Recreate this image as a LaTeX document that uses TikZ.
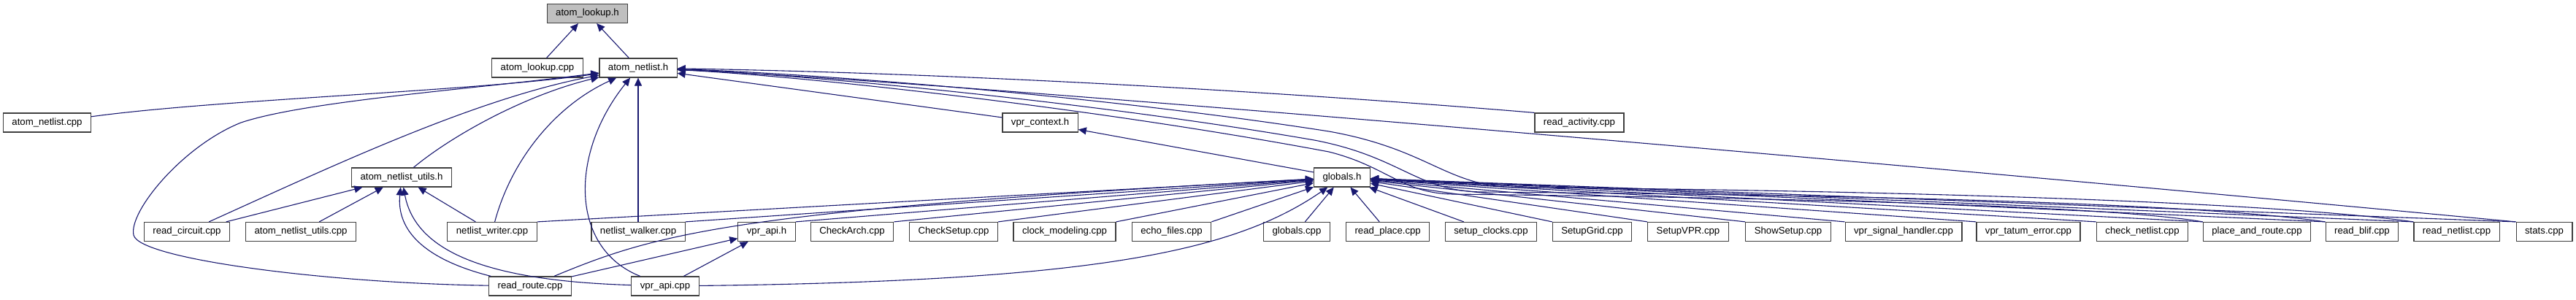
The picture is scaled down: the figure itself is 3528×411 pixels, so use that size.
\documentclass[tikz,border=0pt]{standalone}
\usepackage{fontspec}
\setmainfont{Liberation Sans}
\usetikzlibrary{arrows.meta}
\definecolor{midblue}{HTML}{191970}
\definecolor{boxgray}{HTML}{BFBFBF}
\begin{document}
\begin{tikzpicture}[x=1pt, y=-1pt,
        every node/.style = {shape=rectangle, draw=black!75, line width=1.2pt,
            fill=white, inner xsep=12pt, inner ysep=0pt, minimum height=26pt,
            font=\fontsize{13.2pt}{15pt}\selectfont},
        focus/.style = {fill=boxgray},
        dep/.style = {draw=midblue, line width=1.1pt,
            -{Triangle[length=11pt, width=10pt]}}]
    \useasboundingbox (0,0) rectangle (3528,411);
    \node[focus] (lookuph) at (804.5,18.5) {atom\_lookup.h};
    \node (lookupcpp) at (736,93) {atom\_lookup.cpp};
    \node (netlisth) at (874,93) {atom\_netlist.h};
    \node (netlistcpp) at (64.5,168) {atom\_netlist.cpp};
    \node (context) at (1424.6,168) {vpr\_context.h};
    \node (activity) at (2163,168) {read\_activity.cpp};
    \node (utilsh) at (550,243) {atom\_netlist\_utils.h};
    \node (globalsh) at (1838,243) {globals.h};
    \node (readcircuit) at (256,317.5) {read\_circuit.cpp};
    \node (utilscpp) at (412,317.5) {atom\_netlist\_utils.cpp};
    \node (writer) at (674,317.5) {netlist\_writer.cpp};
    \node (walker) at (874,317.5) {netlist\_walker.cpp};
    \node (apih) at (1050,317.5) {vpr\_api.h};
    \node (checkarch) at (1167,317.5) {CheckArch.cpp};
    \node (checksetup) at (1306,317.5) {CheckSetup.cpp};
    \node (clockmod) at (1458,317.5) {clock\_modeling.cpp};
    \node (echo) at (1604.5,317.5) {echo\_files.cpp};
    \node (globalscpp) at (1776,317.5) {globals.cpp};
    \node (readplace) at (1900.7,317.5) {read\_place.cpp};
    \node (setupclocks) at (2042,317.5) {setup\_clocks.cpp};
    \node (setupgrid) at (2180.5,317.5) {SetupGrid.cpp};
    \node (setupvpr) at (2312,317.5) {SetupVPR.cpp};
    \node (showsetup) at (2449,317.5) {ShowSetup.cpp};
    \node (sighandler) at (2607,317.5) {vpr\_signal\_handler.cpp};
    \node (tatum) at (2778,317.5) {vpr\_tatum\_error.cpp};
    \node (checknetlist) at (2934,317.5) {check\_netlist.cpp};
    \node (pnr) at (3091,317.5) {place\_and\_route.cpp};
    \node (readblif) at (3235,317.5) {read\_blif.cpp};
    \node (readnetlist) at (3364.5,317.5) {read\_netlist.cpp};
    \node (stats) at (3484.5,317.5) {stats.cpp};
    \node (readroute) at (726,392) {read\_route.cpp};
    \node (apicpp) at (911,392) {vpr\_api.cpp};

    \draw[dep] (lookupcpp) -- (lookuph);
    \draw[dep] (netlisth) -- (lookuph);

    \draw[dep] (netlistcpp) .. controls (300,136) and (650,125) .. (netlisth);
    \draw[dep] (readcircuit) .. controls (450,230) and (650,135) .. (netlisth);
    \draw[dep] (utilsh) .. controls (620,185) and (720,130) .. (netlisth);
    \draw[dep] (writer) .. controls (700,220) and (760,145) .. (netlisth);
    \draw[dep] (walker) -- (netlisth);
    \draw[dep] (apicpp) .. controls (780,340) and (780,210) .. (netlisth);
    \draw[dep] (readroute) .. controls (450,388) and (190,355) .. (183,322)
        .. controls (176,290) and (250,200) .. (330,168)
        .. controls (420,138) and (650,122) .. (netlisth);
    \draw[dep] (context) -- (netlisth);
    \draw[dep] (activity.north west) .. controls (1750,125) and (1300,100) .. (netlisth);
    \draw[dep] (stats.north west) .. controls (2500,215) and (1300,112) .. (netlisth);
    \draw[dep] (readnetlist.north west) .. controls (3050,268) and (2300,258) .. (2080,257)
        .. controls (1980,256) and (1960,205) .. (1820,180)
        .. controls (1500,130) and (1100,100) .. (netlisth);
    \draw[dep] (readblif.north west) .. controls (2950,270) and (2250,265) .. (2030,263)
        .. controls (1940,262) and (1920,215) .. (1800,192)
        .. controls (1500,140) and (1100,102) .. (netlisth);
    \draw[dep] (pnr.north west) .. controls (2850,275) and (2150,268) .. (1990,266)
        .. controls (1920,265) and (1900,228) .. (1820,208)
        .. controls (1500,148) and (1100,104) .. (netlisth);

    \draw[dep] (readcircuit) -- (utilsh);
    \draw[dep] (utilscpp) -- (utilsh);
    \draw[dep] (writer) -- (utilsh);
    \draw[dep] (readroute) .. controls (580,355) and (543,315) .. (utilsh);
    \draw[dep] (apicpp) .. controls (680,385) and (570,350) .. (utilsh);

    \draw[dep] (readroute) -- (apih);
    \draw[dep] (apicpp) -- (apih);

    \draw[dep] (globalsh) -- (context);
    \draw[dep] (writer.north east) -- (globalsh);
    \draw[dep] (walker.north east) -- (globalsh);
    \draw[dep] (apih.north east) -- (globalsh);
    \draw[dep] (checkarch.north east) -- (globalsh);
    \draw[dep] (checksetup.north east) -- (globalsh);
    \draw[dep] (clockmod.north east) -- (globalsh);
    \draw[dep] (echo.north east) -- (globalsh);
    \draw[dep] (readroute) .. controls (900,320) and (1000,288) .. (globalsh);
    \draw[dep] (apicpp) .. controls (1500,385) and (1690,345) .. (globalsh);
    \draw[dep] (globalscpp) -- (globalsh);
    \draw[dep] (readplace) -- (globalsh);
    \draw[dep] (setupclocks) -- (globalsh);
    \draw[dep] (setupgrid.north west) -- (globalsh);
    \draw[dep] (setupvpr.north west) -- (globalsh);
    \draw[dep] (showsetup.north west) -- (globalsh);
    \draw[dep] (sighandler.north west) -- (globalsh);
    \draw[dep] (tatum.north west) -- (globalsh);
    \draw[dep] (checknetlist.north west) -- (globalsh);
    \draw[dep] (pnr.north west) -- (globalsh);
    \draw[dep] (readblif.north west) -- (globalsh);
    \draw[dep] (readnetlist.north west) -- (globalsh);
    \draw[dep] (stats.north west) -- (globalsh);
\end{tikzpicture}
\end{document}
